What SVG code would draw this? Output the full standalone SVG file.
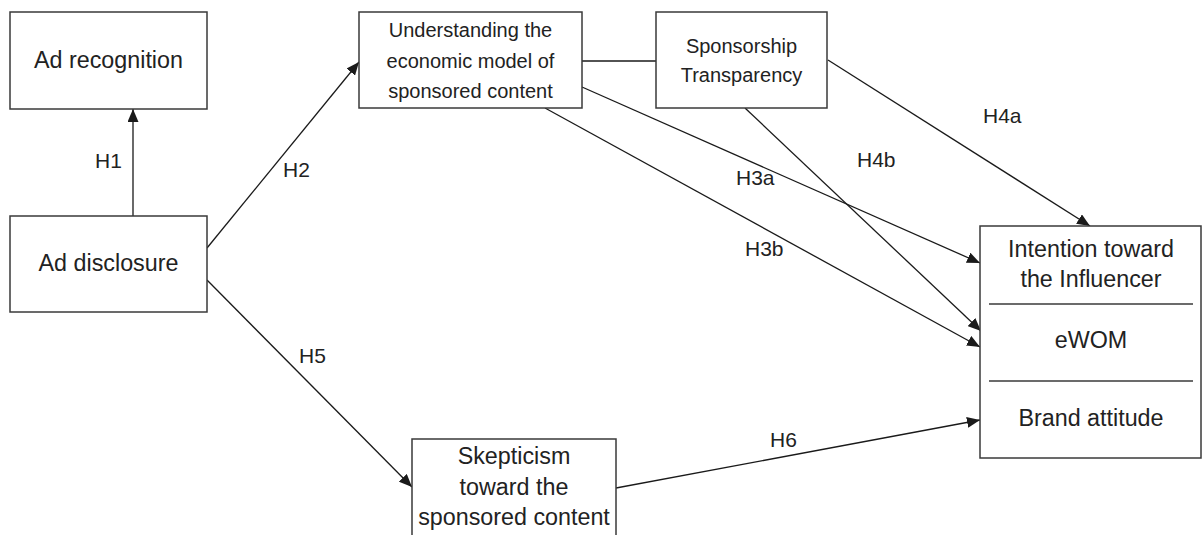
<svg xmlns="http://www.w3.org/2000/svg" width="1203" height="535" viewBox="0 0 1203 535">
<style>
.box{fill:#fff;stroke:#3a3a3a;stroke-width:1.5}
.sep{stroke:#3a3a3a;stroke-width:1.5}
.t{font-family:"Liberation Sans",Arial,sans-serif;font-size:20px;fill:#222;text-anchor:middle}
.big{font-size:23.3px}
.lbl{font-family:"Liberation Sans",Arial,sans-serif;font-size:21px;fill:#222}
.c{stroke:#1a1a1a;stroke-width:1.3;fill:none}
.a{marker-end:url(#arr)}
</style>
<defs>
<marker id="arr" markerUnits="userSpaceOnUse" markerWidth="13" markerHeight="11" refX="13" refY="5.5" orient="auto">
<path d="M0,0 L13,5.5 L0,11 z" fill="#1a1a1a"/>
</marker>
</defs>
<rect width="1203" height="535" fill="#fff"/>
<g id="connectors">
<line class="c a" x1="133" y1="216" x2="133" y2="109"/>
<line class="c a" x1="207" y1="248" x2="359" y2="62"/>
<line class="c" x1="582" y1="61" x2="656" y2="61"/>
<line class="c a" x1="582" y1="87" x2="980" y2="263"/>
<line class="c a" x1="545" y1="108" x2="980" y2="347"/>
<line class="c a" x1="745" y1="108" x2="981" y2="331"/>
<line class="c a" x1="828" y1="60" x2="1090" y2="226"/>
<line class="c a" x1="207" y1="280" x2="412" y2="487"/>
<line class="c a" x1="616" y1="488" x2="980" y2="420"/>
<text class="lbl" x="95" y="168">H1</text>
<text class="lbl" x="283" y="177">H2</text>
<text class="lbl" x="736" y="185">H3a</text>
<text class="lbl" x="745" y="256">H3b</text>
<text class="lbl" x="857" y="167">H4b</text>
<text class="lbl" x="983" y="123">H4a</text>
<text class="lbl" x="299" y="363">H5</text>
<text class="lbl" x="770" y="447">H6</text>
</g>
<g id="ad-recognition">
<rect class="box" x="10" y="12" width="197" height="97"/>
<text class="t big" x="108.5" y="68">Ad recognition</text>
</g>
<g id="ad-disclosure">
<rect class="box" x="10" y="216" width="197" height="96"/>
<text class="t big" x="108.5" y="271">Ad disclosure</text>
</g>
<g id="understanding">
<rect class="box" x="359" y="12" width="223" height="96"/>
<text class="t" x="470.5" y="37">Understanding the</text>
<text class="t" x="470.5" y="68">economic model of</text>
<text class="t" x="470.5" y="98">sponsored content</text>
</g>
<g id="sponsorship">
<rect class="box" x="656" y="12" width="171" height="96"/>
<text class="t" x="741.5" y="53">Sponsorship</text>
<text class="t" x="741.5" y="82">Transparency</text>
</g>
<g id="skepticism">
<rect class="box" x="412" y="439" width="204" height="110"/>
<text class="t big" x="514" y="464">Skepticism</text>
<text class="t big" x="514" y="495">toward the</text>
<text class="t big" x="514" y="525">sponsored content</text>
</g>
<g id="outcomes">
<rect class="box" x="980" y="226" width="221" height="232"/>
<line class="sep" x1="989" y1="304" x2="1193" y2="304"/>
<line class="sep" x1="989" y1="381" x2="1193" y2="381"/>
<text class="t big" x="1091" y="257">Intention toward</text>
<text class="t big" x="1091" y="287">the Influencer</text>
<text class="t big" x="1091" y="348">eWOM</text>
<text class="t big" x="1091" y="426">Brand attitude</text>
</g>
</svg>
